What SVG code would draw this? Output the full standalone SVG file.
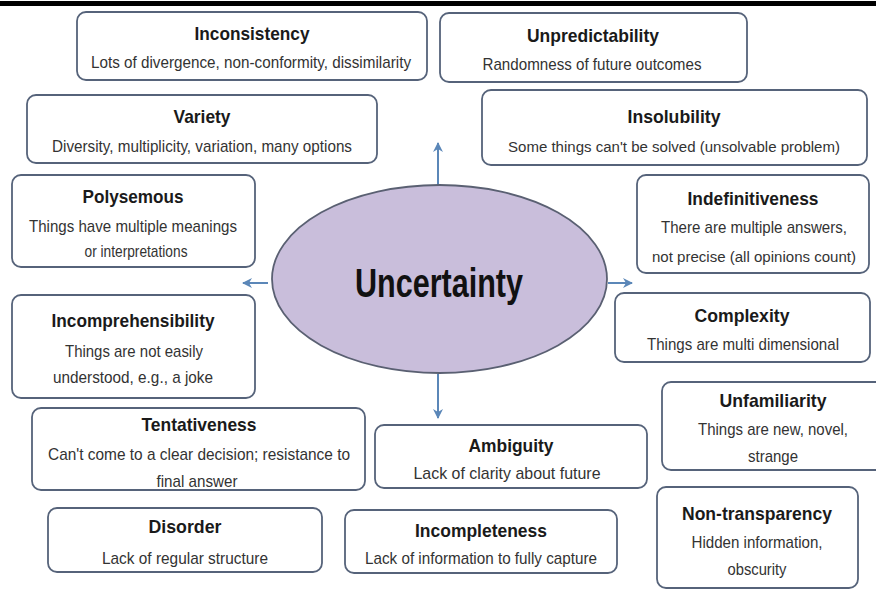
<svg xmlns="http://www.w3.org/2000/svg" width="876" height="589" viewBox="0 0 876 589">
<style>
.box{fill:#ffffff;stroke:#56637a;stroke-width:1.8}
.t{font-family:"Liberation Sans",Arial,sans-serif;font-weight:bold;font-size:19px;fill:#1a1a1a;text-anchor:middle}
.s{font-family:"Liberation Sans",Arial,sans-serif;font-size:17px;fill:#333333;text-anchor:middle}
.n{font-size:15.5px}
.c{stroke:#5b87b8;stroke-width:2;fill:none}
</style>
<defs>
<marker id="ah" viewBox="0 0 10 10" refX="9" refY="5" markerWidth="5" markerHeight="5" orient="auto" markerUnits="strokeWidth">
<path d="M0,0 L10,5 L0,10 L3,5 z" fill="#5b87b8"/>
</marker>
</defs>
<rect x="0" y="1" width="876" height="5" fill="#000000"/>

<g id="connectors">
<line class="c" x1="438" y1="185" x2="438" y2="143" marker-end="url(#ah)"/>
<line class="c" x1="268" y1="283" x2="243" y2="283" marker-end="url(#ah)"/>
<line class="c" x1="608" y1="283" x2="632" y2="283" marker-end="url(#ah)"/>
<line class="c" x1="438" y1="374" x2="438" y2="418" marker-end="url(#ah)"/>
</g>

<g id="uncertainty">
<ellipse cx="439.5" cy="279" rx="167.5" ry="94" fill="#c9bedb" stroke="#5a6072" stroke-width="1.8"/>
<text x="439" y="297" font-family="'Liberation Sans',Arial,sans-serif" font-weight="bold" font-size="41" fill="#111111" text-anchor="middle" textLength="168" lengthAdjust="spacingAndGlyphs">Uncertainty</text>
</g>

<g id="inconsistency">
<rect class="box" x="77" y="12" width="350" height="68" rx="9"/>
<text class="t" x="252" y="40" textLength="115" lengthAdjust="spacingAndGlyphs">Inconsistency</text>
<text class="s" x="251" y="68" textLength="320" lengthAdjust="spacingAndGlyphs">Lots of divergence, non-conformity, dissimilarity</text>
</g>

<g id="variety">
<rect class="box" x="27" y="95" width="350" height="68" rx="9"/>
<text class="t" x="202" y="123" textLength="57" lengthAdjust="spacingAndGlyphs">Variety</text>
<text class="s" x="202" y="152" textLength="300" lengthAdjust="spacingAndGlyphs">Diversity, multiplicity, variation, many options</text>
</g>

<g id="polysemous">
<rect class="box" x="12" y="175" width="243" height="92" rx="9"/>
<text class="t" x="133" y="203" textLength="101" lengthAdjust="spacingAndGlyphs">Polysemous</text>
<text class="s" x="133" y="232" textLength="208" lengthAdjust="spacingAndGlyphs">Things have multiple meanings</text>
<text class="s" x="136" y="257" textLength="103" lengthAdjust="spacingAndGlyphs">or interpretations</text>
</g>

<g id="unpredictability">
<rect class="box" x="440" y="13" width="307" height="69" rx="9"/>
<text class="t" x="593" y="42" textLength="132" lengthAdjust="spacingAndGlyphs">Unpredictability</text>
<text class="s" x="592" y="70" textLength="219" lengthAdjust="spacingAndGlyphs">Randomness of future outcomes</text>
</g>

<g id="insolubility">
<rect class="box" x="482" y="90" width="385" height="75" rx="9"/>
<text class="t" x="674" y="123" textLength="93" lengthAdjust="spacingAndGlyphs">Insolubility</text>
<text class="s n" x="674" y="152" textLength="332" lengthAdjust="spacingAndGlyphs">Some things can't be solved (unsolvable problem)</text>
</g>

<g id="indefinitiveness">
<rect class="box" x="637" y="175" width="232" height="98" rx="9"/>
<text class="t" x="753" y="205" textLength="131" lengthAdjust="spacingAndGlyphs">Indefinitiveness</text>
<text class="s" x="754" y="233" textLength="186" lengthAdjust="spacingAndGlyphs">There are multiple answers,</text>
<text class="s n" x="754" y="262" textLength="204" lengthAdjust="spacingAndGlyphs">not precise (all opinions count)</text>
</g>

<g id="complexity">
<rect class="box" x="615" y="293" width="255" height="69" rx="9"/>
<text class="t" x="742" y="322" textLength="95" lengthAdjust="spacingAndGlyphs">Complexity</text>
<text class="s" x="743" y="350" textLength="192" lengthAdjust="spacingAndGlyphs">Things are multi dimensional</text>
</g>

<g id="unfamiliarity">
<rect class="box" x="662" y="382" width="224" height="88" rx="9"/>
<text class="t" x="773" y="407" textLength="107" lengthAdjust="spacingAndGlyphs">Unfamiliarity</text>
<text class="s" x="773" y="435" textLength="150" lengthAdjust="spacingAndGlyphs">Things are new, novel,</text>
<text class="s" x="773" y="462" textLength="50" lengthAdjust="spacingAndGlyphs">strange</text>
</g>

<g id="ambiguity">
<rect class="box" x="375" y="425" width="272" height="63" rx="9"/>
<text class="t" x="511" y="452" textLength="85" lengthAdjust="spacingAndGlyphs">Ambiguity</text>
<text class="s" x="507" y="479" textLength="187" lengthAdjust="spacingAndGlyphs">Lack of clarity about future</text>
</g>

<g id="incompleteness">
<rect class="box" x="345" y="510" width="272" height="63" rx="9"/>
<text class="t" x="481" y="537" textLength="132" lengthAdjust="spacingAndGlyphs">Incompleteness</text>
<text class="s" x="481" y="564" textLength="232" lengthAdjust="spacingAndGlyphs">Lack of information to fully capture</text>
</g>

<g id="non-transparency">
<rect class="box" x="657" y="487" width="201" height="101" rx="9"/>
<text class="t" x="757" y="520" textLength="150" lengthAdjust="spacingAndGlyphs">Non-transparency</text>
<text class="s" x="757" y="548" textLength="131" lengthAdjust="spacingAndGlyphs">Hidden information,</text>
<text class="s" x="757" y="575" textLength="59" lengthAdjust="spacingAndGlyphs">obscurity</text>
</g>

<g id="incomprehensibility">
<rect class="box" x="12" y="295" width="243" height="103" rx="9"/>
<text class="t" x="133" y="327" textLength="163" lengthAdjust="spacingAndGlyphs">Incomprehensibility</text>
<text class="s" x="134" y="357" textLength="138" lengthAdjust="spacingAndGlyphs">Things are not easily</text>
<text class="s" x="133" y="383" textLength="160" lengthAdjust="spacingAndGlyphs">understood, e.g., a joke</text>
</g>

<g id="tentativeness">
<rect class="box" x="32" y="408" width="333" height="82" rx="9"/>
<text class="t" x="199" y="431" textLength="115" lengthAdjust="spacingAndGlyphs">Tentativeness</text>
<text class="s" x="199" y="460" textLength="302" lengthAdjust="spacingAndGlyphs">Can't come to a clear decision; resistance to</text>
<text class="s" x="197" y="487" textLength="81" lengthAdjust="spacingAndGlyphs">final answer</text>
</g>

<g id="disorder">
<rect class="box" x="48" y="508" width="274" height="64" rx="9"/>
<text class="t" x="185" y="533" textLength="73" lengthAdjust="spacingAndGlyphs">Disorder</text>
<text class="s" x="185" y="564" textLength="166" lengthAdjust="spacingAndGlyphs">Lack of regular structure</text>
</g>
</svg>
